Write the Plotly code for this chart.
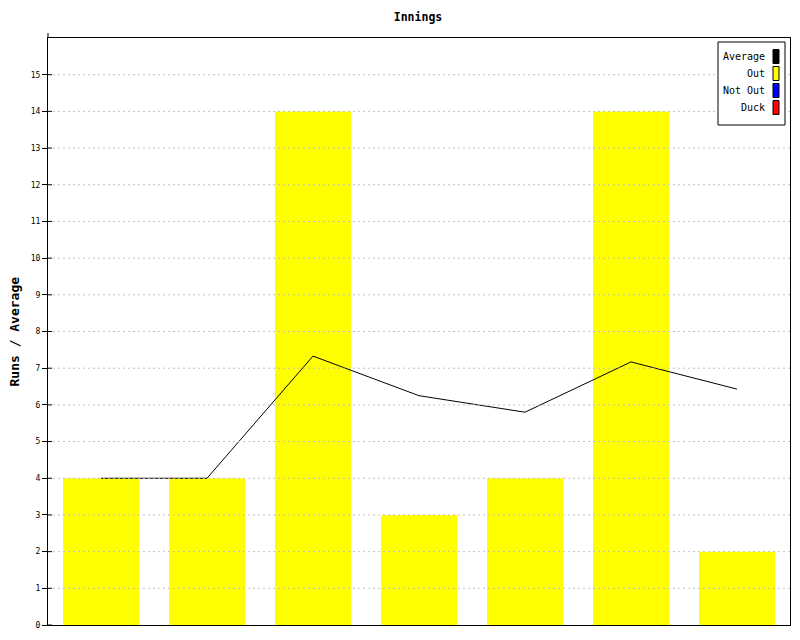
import plotly.graph_objects as go

innings = ["1", "2", "3", "4", "5", "6", "7"]
runs = [4, 4, 14, 3, 4, 14, 2]
average = [4, 4, 7.33, 6.25, 5.8, 7.17, 6.43]
y_ticks = list(range(0, 16))
legend_labels = ["Average", "Out", "Not Out", "Duck"]
legend_colors = ["#000000", "#FFFF00", "#0000FF", "#FF0000"]

# page body has 8px margin; figure is placed at (8,8)
OFF = 8
W, H = 800 - OFF, 640 - OFF
L, R, T, B = 48 - OFF, 10, 38 - OFF, 15
pw, ph = W - L - R, H - T - B

def px(x):
    return (x - OFF - L) / pw

def py(y):
    return (H - B - (y - OFF)) / ph

FONT = "DejaVu Sans Mono"

fig = go.Figure()
fig.add_trace(go.Bar(x=innings, y=runs, marker=dict(color="#FFFF00", line=dict(width=0)),
                     name="Out", showlegend=False))
fig.add_trace(go.Scatter(x=innings, y=average, mode="lines", line=dict(color="black", width=1),
                         name="Average", showlegend=False))

shapes = []
annotations = []
# grid lines over the bars, plus the inner part of the crossing tick marks
for v in y_ticks[1:]:
    shapes.append(dict(type="line", xref="paper", yref="y", x0=px(53), x1=1, y0=v, y1=v,
                       layer="above", line=dict(color="#C0C0C0", width=1, dash="2px,3px")))
for v in y_ticks:
    shapes.append(dict(type="line", xref="paper", yref="y", x0=0, x1=px(52), y0=v, y1=v,
                       layer="above", line=dict(color="black", width=1)))
# axis extension above plot top
shapes.append(dict(type="line", xref="paper", yref="paper", x0=0, x1=0, y0=1, y1=py(33),
                   line=dict(color="black", width=1)))
# legend box
shapes.append(dict(type="rect", xref="paper", yref="paper", x0=px(718), x1=px(785),
                   y0=py(125), y1=py(42), line=dict(color="black", width=1), fillcolor="white"))
for i, (lab, col) in enumerate(zip(legend_labels, legend_colors)):
    cy = 56.5 + 17 * i
    shapes.append(dict(type="rect", xref="paper", yref="paper", x0=px(773), x1=px(779),
                       y0=py(cy + 7), y1=py(cy - 7), line=dict(color="black", width=1), fillcolor=col))
    annotations.append(dict(text=lab, xref="paper", yref="paper", x=px(767), y=py(cy),
                            xanchor="right", yanchor="middle", showarrow=False,
                            font=dict(family=FONT, size=10, color="black")))
# y-axis title placed as annotation
annotations.append(dict(text="<b>Runs / Average</b>", xref="paper", yref="paper",
                        x=px(14), y=0.5, xanchor="center", yanchor="middle", textangle=-90,
                        showarrow=False, font=dict(family=FONT, size=13, color="black")))

fig.update_layout(
    width=W, height=H,
    margin=dict(l=L, r=R, t=T, b=B, autoexpand=False),
    paper_bgcolor="white", plot_bgcolor="white",
    bargap=0.283,
    title=dict(text="<b>Innings</b>", x=(418 - OFF) / W, xanchor="center", y=1 - (17 - OFF) / H,
               yanchor="middle", font=dict(family=FONT, size=11.5, color="black")),
    font=dict(family=FONT, size=8, color="black"),
    shapes=shapes, annotations=annotations,
    showlegend=False,
)
fig.update_xaxes(showticklabels=False, showline=True, linecolor="black", linewidth=1, mirror=True,
                 showgrid=False, ticks="", zeroline=False, automargin=False)
fig.update_yaxes(range=[0, 16], tickvals=y_ticks, ticks="outside", ticklen=5, tickcolor="black",
                 showline=True, linecolor="black", linewidth=1, mirror=True,
                 showgrid=False, zeroline=False, automargin=False,
                 tickfont=dict(family=FONT, size=8, color="black"))

fig.write_html("out.html")
